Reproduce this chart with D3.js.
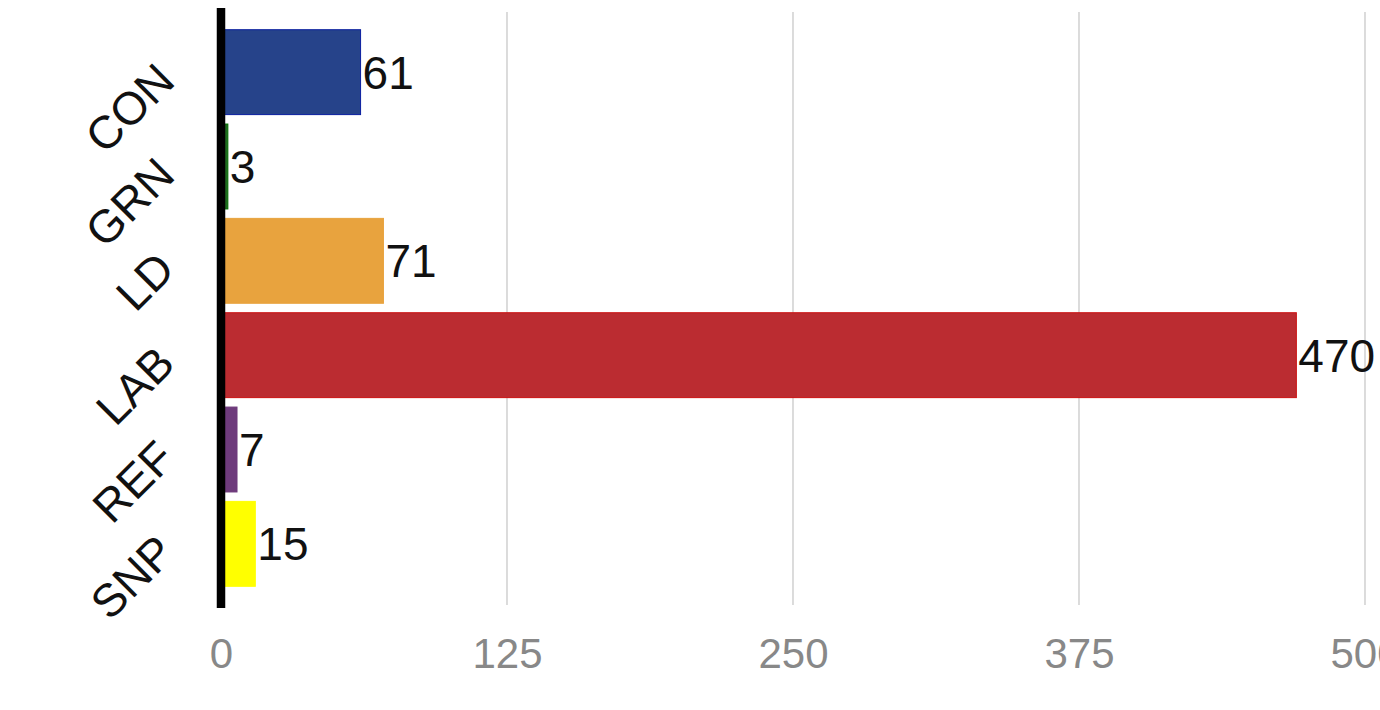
<!DOCTYPE html>
<html><head><meta charset="utf-8">
<script src="https://cdn.jsdelivr.net/npm/d3@7"></script>
<style>
html,body{margin:0;padding:0;background:#fff;}
svg{display:block;font-family:"Liberation Sans",Arial,Helvetica,sans-serif;}
</style></head>
<body>
<svg id="chart" width="1380" height="710"></svg>
<script>
const categories = ["CON","GRN","LD","LAB","REF","SNP"];
const values = [61, 3, 71, 470, 7, 15];
const fills = ["#26438a","#1f6a1f","#e8a33e","#bb2c31","#6e3b7c","#ffff00"];
const strokes = ["#0a1fa0","#007000","#e8a33e","#cc1111","#6e3b7c","#ffff00"];
const tickValues = [0,125,250,375,500];

const svg = d3.select("#chart");
const x = d3.scaleLinear().domain([0,500]).range([221,1365]);
const y = d3.scaleBand().domain(categories).range([8,608]).paddingInner(0.1).paddingOuter(0.23);

// grid
svg.append("g").selectAll("line").data(tickValues.slice(1)).join("line")
  .attr("x1",d=>x(d)).attr("x2",d=>x(d)).attr("y1",12).attr("y2",605)
  .attr("stroke","#c4c4c4").attr("stroke-width",1.2);

// x tick labels
const xAxis = d3.axisBottom(x).tickValues(tickValues).tickSize(0).tickPadding(0);
const gx = svg.append("g").attr("transform","translate(0,620)").call(xAxis);
gx.select(".domain").remove();
gx.selectAll("text").attr("fill","#888").style("font-size","42px").attr("dy","1.15em")
  .style("font-family","'Liberation Sans',Arial,Helvetica,sans-serif");

// bars
svg.append("g").selectAll("rect").data(categories).join("rect")
  .attr("x",x(0)+3)
  .attr("y",d=>y(d))
  .attr("width",(d,i)=>Math.max(1,x(values[i])-x(0)-3))
  .attr("height",y.bandwidth())
  .attr("fill",(d,i)=>fills[i])
  .attr("stroke",(d,i)=>strokes[i]).attr("stroke-width",1);

// value labels
svg.append("g").selectAll("text").data(categories).join("text")
  .attr("x",(d,i)=>x(values[i])+2)
  .attr("y",d=>y(d)+y.bandwidth()/2)
  .attr("dy","0.36em")
  .style("font-size","46px").attr("fill","#111")
  .text((d,i)=>values[i]);

// y axis labels
const yAxis = d3.axisLeft(y).tickSize(0).tickPadding(0);
const gy = svg.append("g").attr("transform","translate(221,0)").call(yAxis);
gy.select(".domain").remove();
gy.selectAll("text")
  .style("font-size","46px").attr("fill","#111")
  .style("font-family","'Liberation Sans',Arial,Helvetica,sans-serif")
  .attr("text-anchor","end")
  .attr("x",0).attr("dy",0)
  .attr("transform","translate(-44,11) rotate(-45)");

// axis line
svg.append("line").attr("x1",x(0)).attr("x2",x(0)).attr("y1",8).attr("y2",608)
  .attr("stroke","#000").attr("stroke-width",8.5);
</script>
</body></html>
